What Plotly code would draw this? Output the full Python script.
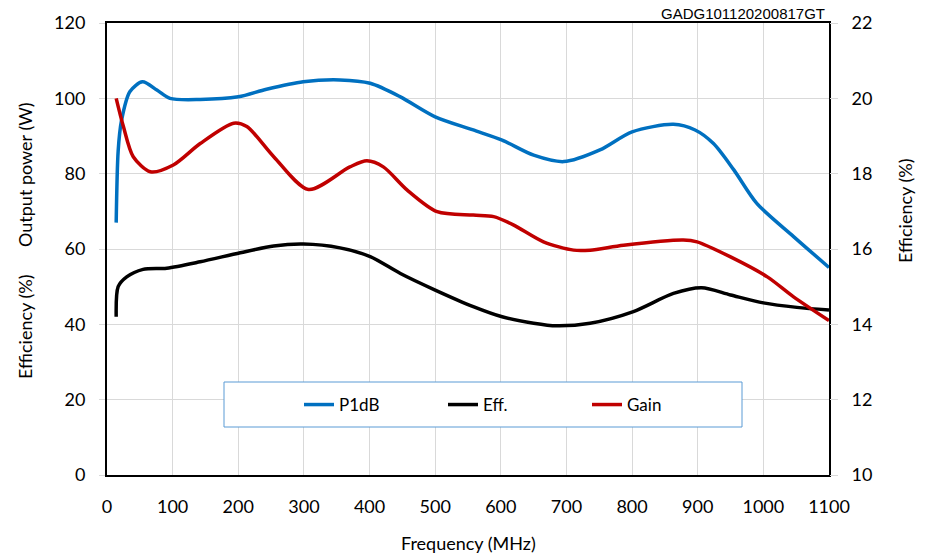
import plotly.graph_objects as go

# ---- data ----
freq_p1db = [14, 17, 22, 35, 54, 76, 96, 142, 200, 243, 299, 355, 401, 447, 500, 558, 602,
             650, 696, 751, 800, 863, 896, 924, 955, 990, 1046, 1100]
p1db = [67, 86, 94, 101.8, 104.4, 102.2, 100, 99.7, 100.4, 102.4, 104.4, 104.9, 104, 100.4,
        95.1, 91.6, 88.9, 84.9, 83.2, 86.3, 91.1, 93.1, 91.6, 88, 81, 72.1, 63.3, 55.1]

freq_eff = [14, 17, 30, 55, 91, 142, 203, 254, 299, 355, 401, 447, 500, 558, 602, 650, 685,
            736, 802, 863, 906, 950, 1000, 1051, 1100]
eff = [42, 50, 52.6, 54.6, 54.9, 56.6, 59.0, 60.8, 61.3, 60.3, 58.0, 53.5, 49.1, 44.7, 42.0,
       40.3, 39.6, 40.3, 43.4, 48.2, 49.7, 47.8, 45.7, 44.5, 43.8]

freq_gain = [14, 25, 40, 66, 101, 142, 193, 213, 254, 307, 370, 396, 421, 457, 503, 558, 589,
             619, 665, 711, 736, 787, 878, 899, 950, 1006, 1046, 1100]
gain = [20.0, 19.25, 18.45, 18.05, 18.23, 18.8, 19.34, 19.25, 18.45, 17.58, 18.18, 18.34, 18.18,
        17.57, 16.99, 16.9, 16.86, 16.64, 16.19, 15.97, 15.97, 16.1, 16.24, 16.19, 15.79, 15.26,
        14.73, 14.1]

x_ticks = list(range(0, 1101, 100))
y_left_ticks = list(range(0, 121, 20))
y_right_ticks = list(range(10, 23, 2))

FONT = "Lato"
GRID = "#d9d9d9"

# plot area in pixels (reference)
PL, PR, PT, PB = 107, 829, 23, 475
PW, PH = PR - PL, PB - PT

fig = go.Figure()
fig.add_trace(go.Scatter(x=freq_p1db, y=p1db, name="P1dB", mode="lines",
                         line=dict(color="#0070c0", width=3.5, shape="spline", smoothing=0.8)))
fig.add_trace(go.Scatter(x=freq_eff, y=eff, name="Eff.", mode="lines",
                         line=dict(color="#000000", width=3.5, shape="spline", smoothing=0.8)))
fig.add_trace(go.Scatter(x=freq_gain, y=gain, name="Gain", mode="lines", yaxis="y2",
                         line=dict(color="#c00000", width=3.5, shape="spline", smoothing=0.8)))

fig.update_layout(
    width=926, height=558,
    margin=dict(l=PL, r=926 - PR, t=PT, b=558 - PB),
    paper_bgcolor="white", plot_bgcolor="white",
    font=dict(family=FONT, size=18, color="#000000"),
    xaxis=dict(range=[0, 1100], tickvals=x_ticks, showgrid=True, gridcolor=GRID, gridwidth=1,
               showline=True, linecolor="#000000", linewidth=2, mirror=True,
               ticks="", ticklabelstandoff=14, zeroline=False, automargin=False),
    yaxis=dict(range=[0, 120], tickvals=y_left_ticks, showgrid=True, gridcolor=GRID, gridwidth=1,
               showline=True, linecolor="#000000", linewidth=2, mirror=True,
               ticks="outside", ticklen=6, tickcolor=GRID, ticklabelstandoff=10, zeroline=False,
               automargin=False),
    yaxis2=dict(range=[10, 22], tickvals=y_right_ticks, overlaying="y", side="right",
                showgrid=False, showline=False, ticks="outside", ticklen=8, tickcolor=GRID,
                ticklabelstandoff=10, zeroline=False, automargin=False),
    showlegend=True,
    legend=dict(orientation="h", x=(299 - PL) / PW, xanchor="left", y=(PB - 405) / PH,
                yanchor="middle", bgcolor="rgba(0,0,0,0)", borderwidth=0,
                font=dict(family=FONT, size=17), entrywidth=99, entrywidthmode="pixels"),
)

# legend frame
fig.add_shape(type="rect", xref="paper", yref="paper",
              x0=(224 - PL) / PW, x1=(742 - PL) / PW,
              y0=(PB - 427) / PH, y1=(PB - 382) / PH,
              line=dict(color="#5b9bd5", width=1), fillcolor="white", layer="above")

fig.add_annotation(text="Output power (W)", xref="paper", yref="paper", x=0, xshift=-82,
                   y=(PB - 175) / PH, textangle=-90, showarrow=False,
                   xanchor="center", yanchor="middle", font=dict(family=FONT, size=18))
fig.add_annotation(text="Efficiency (%)", xref="paper", yref="paper", x=0, xshift=-82,
                   y=(PB - 327) / PH, textangle=-90, showarrow=False,
                   xanchor="center", yanchor="middle", font=dict(family=FONT, size=18))
fig.add_annotation(text="Efficiency (%)", xref="paper", yref="paper", x=1, xshift=76,
                   y=(PB - 211) / PH, textangle=-90, showarrow=False,
                   xanchor="center", yanchor="middle", font=dict(family=FONT, size=18))
fig.add_annotation(text="Frequency (MHz)", xref="paper", yref="paper", x=0.5, y=0, yshift=-68,
                   showarrow=False, xanchor="center", yanchor="middle",
                   font=dict(family=FONT, size=18))
fig.add_annotation(text="GADG101120200817GT", xref="paper", yref="paper", x=1, xshift=-2,
                   y=1, yshift=10, showarrow=False, xanchor="right", yanchor="middle",
                   font=dict(family="Liberation Sans", size=15))

fig.write_html(
    "out.html",
    config={"displayModeBar": False},
    post_script="document.body.style.margin='0';document.body.style.padding='0';",
)
